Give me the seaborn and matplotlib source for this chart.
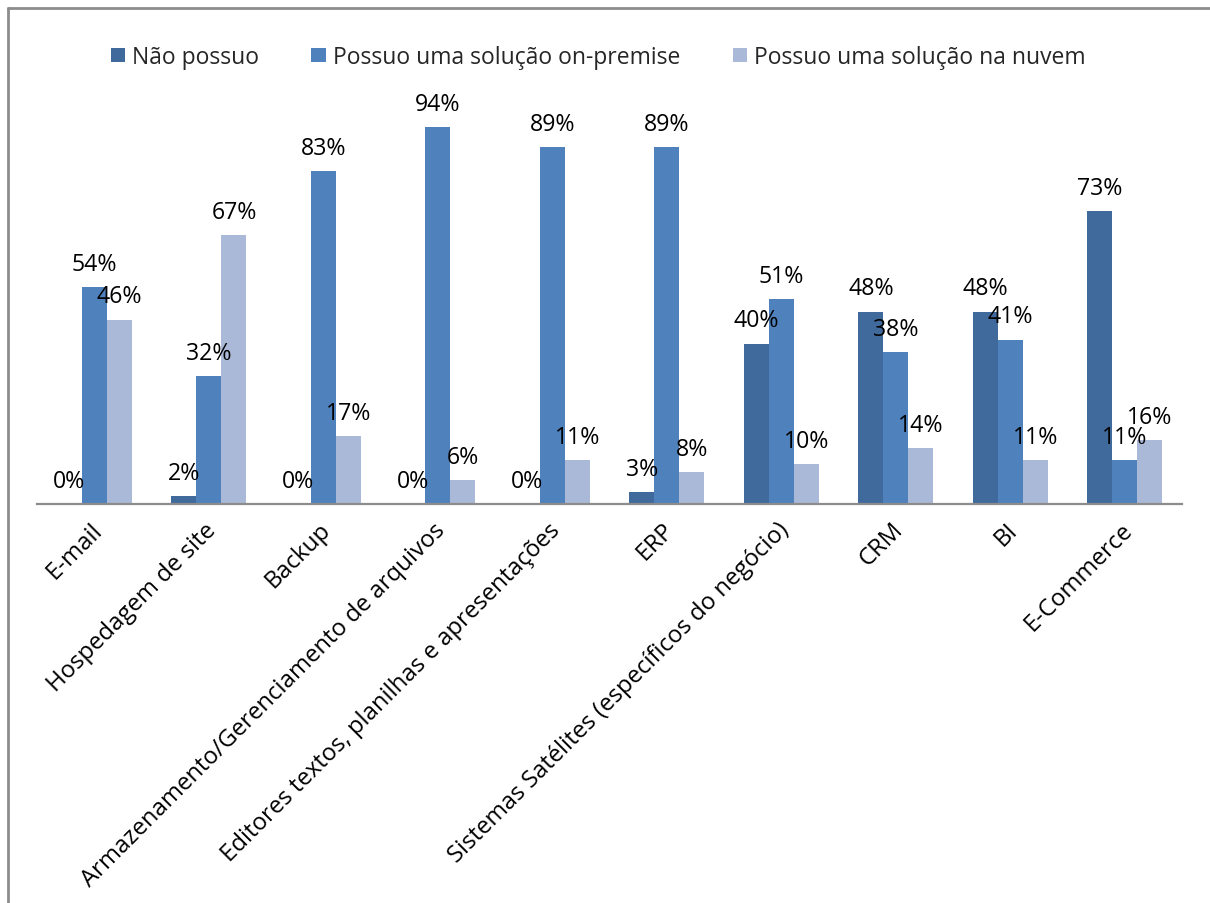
import matplotlib
matplotlib.use("Agg")
import matplotlib.pyplot as plt
import matplotlib.transforms as mtransforms
from matplotlib.lines import Line2D
from matplotlib.patches import Patch
import pandas as pd
import seaborn as sns

categories = [
    "E-mail",
    "Hospedagem de site",
    "Backup",
    "Armazenamento/Gerenciamento de arquivos",
    "Editores textos, planilhas e apresentações",
    "ERP",
    "Sistemas Satélites (específicos do negócio)",
    "CRM",
    "BI",
    "E-Commerce",
]
series = ["Não possuo", "Possuo uma solução on-premise", "Possuo uma solução na nuvem"]
nao_possuo = [0, 2, 0, 0, 0, 3, 40, 48, 48, 73]
on_premise = [54, 32, 83, 94, 89, 89, 51, 38, 41, 11]
nuvem = [46, 67, 17, 6, 11, 8, 10, 14, 11, 16]
colors = ["#416A9C", "#4F81BD", "#AAB9D7"]

rows = []
for name, vals in zip(series, [nao_possuo, on_premise, nuvem]):
    for cat, v in zip(categories, vals):
        rows.append({"categoria": cat, "serie": name, "valor": v})
df = pd.DataFrame(rows)

sns.set_theme(style="white")
plt.rcParams["font.family"] = ["Open Sans", "DejaVu Sans"]

fig = plt.figure(figsize=(12.1, 9.04), dpi=100)
ax = fig.add_axes([37.25 / 1210, 1 - 505 / 904, (1182 - 37.25) / 1210, (505 - 104) / 904])

sns.barplot(data=df, x="categoria", y="valor", hue="serie", order=categories,
            hue_order=series, palette=colors, width=0.655, saturation=1,
            edgecolor="none", linewidth=0, ax=ax, legend=False)

ax.set_ylim(0, 100)
ax.set_xlim(-0.5, len(categories) - 0.5)
ax.set_xlabel("")
ax.set_ylabel("")
ax.set_yticks([])
for side in ["top", "right", "left"]:
    ax.spines[side].set_visible(False)
ax.spines["bottom"].set_color("#8C8C8C")
ax.spines["bottom"].set_linewidth(1.6)

for container, vals in zip(ax.containers, [nao_possuo, on_premise, nuvem]):
    ax.bar_label(container, labels=[f"{v}%" for v in vals], padding=8,
                 fontsize=16.7, color="black")

ax.tick_params(axis="x", length=0, pad=0)
ax.set_xticks(range(len(categories)))
ax.set_xticklabels(categories, rotation=45, ha="right", va="center",
                   rotation_mode="anchor", fontsize=17.2, color="black")
offset = mtransforms.ScaledTranslation(4 / 100, -22 / 100, fig.dpi_scale_trans)
for lbl in ax.get_xticklabels():
    lbl.set_transform(lbl.get_transform() + offset)

handles = [Patch(facecolor=c, edgecolor="none") for c in colors]
fig.legend(handles, series, loc="center", bbox_to_anchor=(598 / 1210, 1 - 58 / 904),
           ncol=3, frameon=False, fontsize=16.5, handlelength=0.62, handleheight=0.62,
           handletextpad=0.3, columnspacing=2.3)

# outer frame (top and left edges)
fig.add_artist(Line2D([8 / 1210, 8 / 1210], [0, 1 - 9 / 904], color="#8C8C8C", lw=2,
                      transform=fig.transFigure))
fig.add_artist(Line2D([8 / 1210, 1], [1 - 9 / 904, 1 - 9 / 904], color="#8C8C8C", lw=2,
                      transform=fig.transFigure))

fig.savefig("out.png", dpi=100, facecolor="white")
